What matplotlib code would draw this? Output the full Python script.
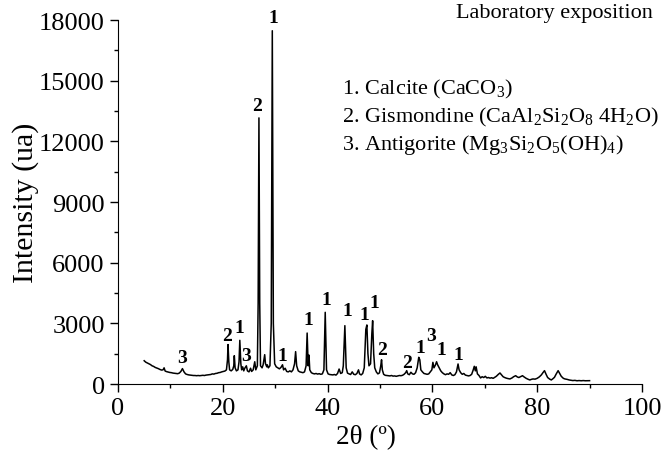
import matplotlib
matplotlib.use("Agg")
from matplotlib import pyplot as plt
from matplotlib.ticker import MultipleLocator

plt.rcParams['font.family'] = ['Liberation Serif', 'DejaVu Serif']
plt.rcParams['mathtext.fontset'] = 'custom'
plt.rcParams['mathtext.rm'] = 'Liberation Serif'
plt.rcParams['mathtext.it'] = 'Liberation Serif:italic'
plt.rcParams['mathtext.bf'] = 'Liberation Serif:bold'

# difractograma (2theta, intensidade)
two_theta = [
    5.0, 5.3, 5.6, 5.9, 6.2, 6.5, 6.8, 7.1, 7.4, 7.7, 8.0, 8.3, 8.6, 8.8, 9.0,
    9.3, 9.6, 9.9, 10.2, 10.5, 10.8, 11.1, 11.4, 11.7, 12.0, 12.3, 12.6, 12.9,
    13.2, 13.5, 13.8, 14.1, 14.4, 14.7, 15.0, 15.3, 15.6, 15.9, 16.2, 16.5,
    16.8, 17.1, 17.4, 17.7, 18.0, 18.3, 18.6, 18.9, 19.2, 19.5, 19.8, 20.1,
    20.4, 20.7, 20.9, 21.0, 21.15, 21.3, 21.6, 21.9, 22.1, 22.2, 22.35, 22.6,
    22.9, 23.1, 23.25, 23.45, 23.6, 23.8, 24.0, 24.2, 24.5, 24.7, 25.0, 25.3,
    25.5, 25.8, 26.1, 26.3, 26.6, 26.75, 26.9, 27.05, 27.2, 27.5, 27.7, 27.9,
    28.0, 28.15, 28.4, 28.5, 28.7, 29.0, 29.25, 29.45, 29.65, 29.9, 30.2,
    30.5, 30.8, 31.1, 31.4, 31.6, 31.9, 32.2, 32.5, 32.8, 33.1, 33.4, 33.7,
    33.9, 34.1, 34.4, 34.7, 35.0, 35.3, 35.6, 35.9, 36.1, 36.3, 36.45, 36.6,
    36.9, 37.2, 37.5, 37.8, 38.1, 38.4, 38.7, 39.0, 39.3, 39.55, 39.8, 40.1,
    40.4, 40.7, 41.0, 41.3, 41.6, 41.9, 42.2, 42.5, 42.8, 43.0, 43.3, 43.55,
    43.8, 44.1, 44.4, 44.7, 45.0, 45.3, 45.6, 45.9, 46.1, 46.4, 46.7, 47.0,
    47.3, 47.5, 47.7, 47.9, 48.2, 48.45, 48.6, 48.8, 49.0, 49.3, 49.6, 49.9,
    50.15, 50.3, 50.45, 50.7, 51.0, 51.3, 51.6, 51.9, 52.2, 52.5, 52.8, 53.1,
    53.4, 53.7, 54.0, 54.3, 54.6, 54.9, 55.1, 55.3, 55.6, 55.9, 56.2, 56.5,
    56.8, 57.1, 57.4, 57.6, 57.8, 58.1, 58.4, 58.7, 59.0, 59.3, 59.6, 59.9,
    60.1, 60.3, 60.6, 60.8, 61.0, 61.3, 61.6, 61.9, 62.2, 62.5, 62.8, 63.1,
    63.4, 63.7, 64.0, 64.3, 64.6, 64.9, 65.1, 65.4, 65.7, 66.0, 66.3, 66.6,
    66.9, 67.2, 67.5, 67.8, 68.0, 68.2, 68.35, 68.6, 68.9, 69.2, 69.5, 69.8,
    70.1, 70.4, 70.7, 71.0, 71.3, 71.6, 71.9, 72.2, 72.6, 72.9, 73.2, 73.5,
    73.8, 74.1, 74.4, 74.8, 75.2, 75.5, 75.9, 76.2, 76.5, 76.8, 77.2, 77.5,
    77.9, 78.3, 78.6, 78.9, 79.2, 79.6, 80.0, 80.4, 80.8, 81.1, 81.4, 81.7,
    82.0, 82.4, 82.7, 83.0, 83.3, 83.6, 84.0, 84.3, 84.6, 85.0, 85.3, 85.7,
    86.1, 86.5, 86.8, 87.2, 87.6, 88.0, 88.4, 88.8, 89.2, 89.6, 90.0,
]
intensidade = [
    1150, 1080, 1040, 1000, 960, 900, 870, 820, 790, 760, 720, 690, 700, 800, 640,
    610, 590, 570, 560, 540, 530, 520, 510, 540, 620, 760, 600, 500,
    470, 450, 440, 430, 420, 420, 410, 420, 410, 420, 430, 420,
    440, 450, 460, 470, 500, 490, 520, 530, 560, 570, 600, 620,
    640, 700, 1200, 1950, 1100, 700, 650, 720, 900, 1400, 800, 650,
    700, 1100, 2160, 1000, 700, 850, 650, 780, 900, 650, 600, 780,
    620, 700, 1100, 700, 900, 4000, 13160, 4000, 900, 800, 950, 1300,
    1450, 1000, 850, 950, 800, 900, 3000, 17470, 3000, 1000, 850,
    800, 750, 820, 950, 700, 780, 620, 600, 650, 600, 700, 1000,
    1600, 900, 650, 600, 580, 560, 600, 900, 2520, 900, 1430, 700,
    560, 520, 500, 520, 490, 510, 480, 500, 700, 3545, 700, 500,
    470, 460, 450, 470, 440, 520, 740, 520, 560, 900, 2885, 800,
    540, 500, 470, 600, 480, 460, 520, 700, 500, 450, 520, 800,
    2700, 2920, 1500, 900, 1000, 2500, 3130, 1500, 800, 600, 500, 550,
    900, 1200, 700, 480, 430, 420, 410, 400, 420, 390, 400, 380,
    400, 420, 410, 430, 480, 560, 660, 500, 460, 580, 500, 480,
    560, 800, 1320, 1200, 700, 600, 520, 500, 480, 500, 600, 700,
    1070, 800, 950, 1100, 950, 800, 650, 560, 500, 460, 500, 480,
    560, 450, 420, 460, 600, 990, 700, 560, 480, 520, 440, 420,
    400, 420, 480, 700, 875, 650, 850, 500, 420, 300, 360, 320,
    380, 300, 320, 290, 310, 280, 330, 380, 480, 545, 450, 360,
    320, 290, 270, 250, 300, 360, 410, 350, 320, 360, 410, 350,
    280, 230, 200, 230, 250, 240, 280, 350, 450, 560, 660, 480,
    320, 240, 200, 260, 330, 480, 660, 520, 380, 280, 250, 230,
    200, 180, 170, 180, 160, 170, 160, 170, 160, 165, 165,
]

# identificacao dos picos: posicao 2theta, altura do rotulo, fase
pico_x = [12.2, 20.9, 23.1, 24.5, 26.5, 29.6, 31.3, 36.3, 39.8, 43.8, 47.0,
          48.9, 50.4, 55.1, 57.7, 59.8, 61.7, 65.0]
pico_y = [1320, 2420, 2800, 1400, 13760, 18130, 1430, 3180, 4200, 3630, 3460,
          4040, 1700, 1070, 1810, 2380, 1700, 1480]
pico_fase = ['3', '2', '1', '3', '2', '1', '1', '1', '1', '1', '1',
             '1', '2', '2', '1', '3', '1', '1']

fases = ['1. Calcite (CaCO$_3$)',
         '2. Gismondine (CaAl$_2$Si$_2$O$_8$ 4H$_2$O)',
         '3. Antigorite (Mg$_3$Si$_2$O$_5$(OH)$_4$)']

fig = plt.figure(figsize=(6.61, 4.56), dpi=100)
ax = fig.add_axes([0.1785, 0.1557, 0.7927, 0.7982])

ax.plot(two_theta, intensidade, color='black', lw=1.1)

for x, y, t in zip(pico_x, pico_y, pico_fase):
    ax.text(x, y, t, ha='center', va='center', fontsize=14, fontweight='bold')

ax.text(1.021, 1.02, 'Laboratory exposition', transform=ax.transAxes,
        ha='right', va='center', fontsize=16)
for i, f in enumerate(fases):
    ax.text(0.4275, 0.813 - i * 0.077, f, transform=ax.transAxes,
            ha='left', va='center', fontsize=16)

ax.set_xlim(0, 100)
ax.set_ylim(0, 18000)
ax.xaxis.set_major_locator(MultipleLocator(20))
ax.xaxis.set_minor_locator(MultipleLocator(10))
ax.yaxis.set_major_locator(MultipleLocator(3000))
ax.yaxis.set_minor_locator(MultipleLocator(1500))
ax.tick_params(which='major', direction='out', length=6, width=1,
               labelsize=19)
ax.tick_params(which='minor', direction='out', length=3, width=1)
ax.spines['top'].set_visible(False)
ax.spines['right'].set_visible(False)

ax.set_xlabel('2θ (º)', fontsize=19.5)
ax.xaxis.set_label_coords(0.473, -0.11)
ax.set_ylabel('Intensity (ua)', fontsize=21.5, labelpad=0)

plt.savefig('out.png', dpi=100)
